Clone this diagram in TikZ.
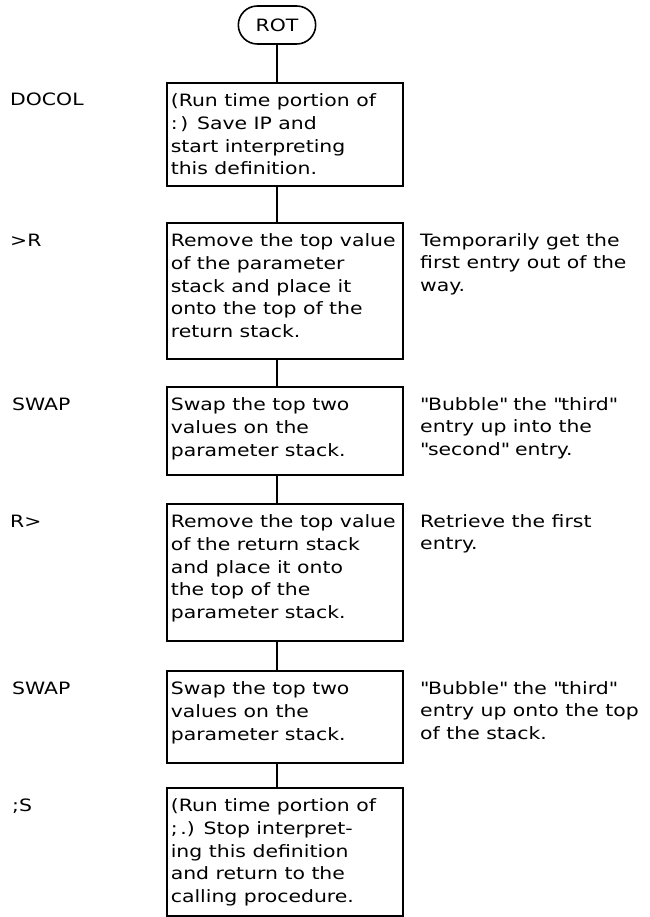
\documentclass[tikz,border=0pt]{standalone}
\usepackage{fontspec}
\setmainfont{DejaVu Sans}[FakeStretch=1.2]
\usetikzlibrary{shapes.misc}

% 框内文字：固定高度，顶端对齐
\newcommand{\boxtext}[2]{\parbox[c][#1][t]{228pt}{\raggedright\vspace*{8pt}\strut#2}}
% 右侧说明文字
\newcommand{\notetext}[1]{\parbox[t]{228pt}{\raggedright#1}}
\newcommand{\dq}{\textquotedbl}

\begin{document}
\begin{tikzpicture}[x=1pt, y=-1pt,
		every node/.style={font=\fontsize{17}{22.7}\selectfont},
		stepbox/.style={draw, line width=1.6pt, anchor=north west, inner xsep=4pt, inner ysep=0pt},
		wordlbl/.style={anchor=base west, inner sep=0pt},
		note/.style={anchor=base west, inner sep=0pt},
		link/.style={line width=1.6pt}]
			
			\useasboundingbox (0,0) rectangle (649,917);
			
			% 起点：ROT
			\node[draw, line width=1.6pt, rounded rectangle, minimum width=84pt, minimum height=38pt] (rot) at (277,25) {ROT};
			
			% DOCOL
			\node[stepbox] (docol) at (166,82) {\boxtext{103pt}{(Run time portion of\\ :\,) Save IP and\\ start interpreting\\ this definition.}};
			\node[wordlbl] (docollbl) at (10,106) {DOCOL};
			
			% >R
			\node[stepbox] (tor) at (166,222) {\boxtext{136pt}{Remove the top value\\ of the parameter\\ stack and place it\\ onto the top of the\\ return stack.}};
			\node[wordlbl] (torlbl) at (10,246) {>R};
			\node[note] (tornote) at (420,246) {\notetext{Temporarily get the\\ first entry out of the\\ way.}};
			
			% SWAP
			\node[stepbox] (swapa) at (166,386) {\boxtext{88pt}{Swap the top two\\ values on the\\ parameter stack.}};
			\node[wordlbl] (swapalbl) at (12,410) {SWAP};
			\node[note] (swapanote) at (420,410) {\notetext{\dq Bubble\dq{} the \dq third\dq\\ entry up into the\\ \dq second\dq{} entry.}};
			
			% R>
			\node[stepbox] (fromr) at (166,503) {\boxtext{137pt}{Remove the top value\\ of the return stack\\ and place it onto\\ the top of the\\ parameter stack.}};
			\node[wordlbl] (fromrlbl) at (10,527) {R>};
			\node[note] (fromrnote) at (420,527) {\notetext{Retrieve the first\\ entry.}};
			
			% SWAP
			\node[stepbox] (swapb) at (166,670) {\boxtext{92pt}{Swap the top two\\ values on the\\ parameter stack.}};
			\node[wordlbl] (swapblbl) at (12,694) {SWAP};
			\node[note] (swapbnote) at (420,694) {\notetext{\dq Bubble\dq{} the \dq third\dq\\ entry up onto the top\\ of the stack.}};
			
			% ;S
			\node[stepbox] (semis) at (166,787) {\boxtext{128pt}{(Run time portion of\\ ;\,.) Stop interpret-\\ ing this definition\\ and return to the\\ calling procedure.}};
			\node[wordlbl] (semislbl) at (12,811) {;S};
			
			% 连线
			\draw[link] (rot.south) -- (rot.south |- docol.north);
			\draw[link] (docol.south -| rot.south) -- (tor.north -| rot.south);
			\draw[link] (tor.south -| rot.south) -- (swapa.north -| rot.south);
			\draw[link] (swapa.south -| rot.south) -- (fromr.north -| rot.south);
			\draw[link] (fromr.south -| rot.south) -- (swapb.north -| rot.south);
			\draw[link] (swapb.south -| rot.south) -- (semis.north -| rot.south);
		\end{tikzpicture}
\end{document}
